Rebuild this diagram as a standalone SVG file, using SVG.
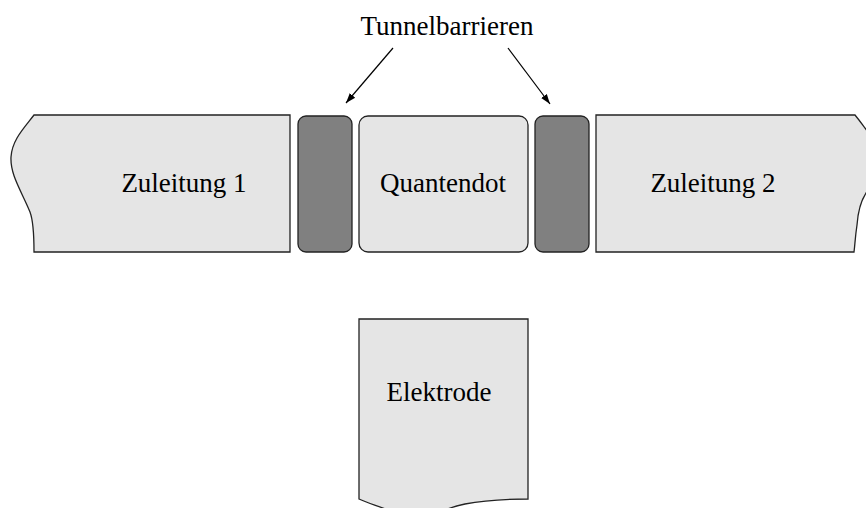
<svg xmlns="http://www.w3.org/2000/svg" width="866" height="508" viewBox="0 0 866 508">
<style>
.shape{fill:#e5e5e5;stroke:#222;stroke-width:1.3}
.bar{fill:#808080;stroke:#222;stroke-width:1.3}
.t{font-family:"Liberation Serif",serif;font-size:27px;fill:#000;text-anchor:middle}
.arr{stroke:#000;stroke-width:1.2;fill:none;marker-end:url(#ah)}
</style>
<defs>
<marker id="ah" viewBox="0 0 10 10" refX="10" refY="5" markerWidth="10" markerHeight="10" markerUnits="userSpaceOnUse" orient="auto">
<path d="M0,1.5 L10,5 L0,8.5 Z" fill="#000"/>
</marker>
</defs>
<g id="zuleitung1">
<path class="shape" d="M34,115 L290,115 L290,252 L34,252 C34,235 33,220 30,212 C22,192 10,175 11,157 C12,140 24,128 34,115 Z"/>
<text class="t" x="184" y="192">Zuleitung 1</text>
</g>
<g id="barriere1">
<rect class="bar" x="298" y="116" width="54" height="136" rx="8"/>
</g>
<g id="quantendot">
<rect class="shape" x="359" y="116" width="169" height="136" rx="9"/>
<text class="t" x="443" y="192">Quantendot</text>
</g>
<g id="barriere2">
<rect class="bar" x="535" y="116" width="54" height="136" rx="8"/>
</g>
<g id="zuleitung2">
<path class="shape" d="M596,115 L855,115 C860,121 864,127 868,132 L868,190 C862,198 858,210 857,225 C855,238 855,245 854,252 L596,252 Z"/>
<text class="t" x="713" y="192">Zuleitung 2</text>
</g>
<g id="elektrode">
<path class="shape" d="M359,319 L528,319 L528,499 C505,499 485,500 465,504 C455,506 450,508 445,510 L388,510 C378,506 368,503 359,499 Z"/>
<text class="t" x="439" y="401">Elektrode</text>
</g>
<g id="label">
<text class="t" x="447" y="35">Tunnelbarrieren</text>
</g>
<g id="connectors">
<line class="arr" x1="393" y1="48" x2="346" y2="103"/>
<line class="arr" x1="508" y1="48" x2="550" y2="104"/>
</g>
</svg>
